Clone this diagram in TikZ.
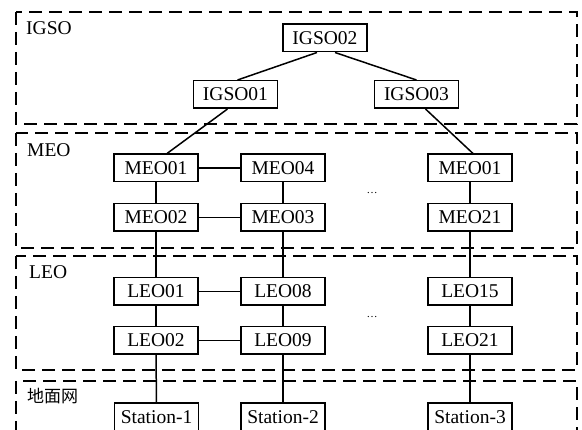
\documentclass[tikz,border=0pt]{standalone}
\usepackage{fontspec}
\setmainfont{Liberation Serif}
\newfontfamily\cjk{Noto Sans CJK SC}
\begin{document}
\begin{tikzpicture}[x=1pt,y=-1pt,
  sat/.style={draw,line width=1.5pt,minimum width=84pt,minimum height=27.5pt,inner sep=1pt,font=\fontsize{19.5}{22}\selectfont},
  layer/.style={draw,line width=2pt,dash pattern=on 13pt off 7pt},
  lbl/.style={anchor=west,inner sep=0pt,font=\fontsize{19.5}{22}\selectfont},
  link/.style={line width=1.5pt}]
\useasboundingbox (0,0) rectangle (582,430);
\begin{scope}
\clip (0,0) rectangle (582,430);
\draw[layer] (16,12) rectangle (577,124);
\draw[layer] (16,133) rectangle (577,248);
\draw[layer] (16,256) rectangle (577,370);
\draw[layer] (16,381) rectangle (577,470);
\end{scope}
\node[lbl] (lIGSO) at (26,28) {IGSO};
\node[lbl] (lMEO) at (27,150) {MEO};
\node[lbl] (lLEO) at (29,272) {LEO};
\node[lbl,font=\cjk\fontsize{17}{20}\selectfont] (lGround) at (27,396) {地面网};

\node[sat] (IGSO02) at (325,38) {IGSO02};
\node[sat] (IGSO01) at (235.5,94.5) {IGSO01};
\node[sat] (IGSO03) at (416.5,94.5) {IGSO03};

\node[sat] (MEO01) at (156,168) {MEO01};
\node[sat] (MEO04) at (283,168) {MEO04};
\node[sat] (MEO01r) at (470,168) {MEO01};
\node[sat] (MEO02) at (156,217.5) {MEO02};
\node[sat] (MEO03) at (283,217.5) {MEO03};
\node[sat] (MEO21) at (470,217.5) {MEO21};

\node[sat] (LEO01) at (156,291.5) {LEO01};
\node[sat] (LEO08) at (283,291.5) {LEO08};
\node[sat] (LEO15) at (470,291.5) {LEO15};
\node[sat] (LEO02) at (156,340.5) {LEO02};
\node[sat] (LEO09) at (283,340.5) {LEO09};
\node[sat] (LEO21) at (470,340.5) {LEO21};

\node[sat] (St1) at (156.5,417) {Station-1};
\node[sat] (St2) at (283,417) {Station-2};
\node[sat] (St3) at (470,417) {Station-3};

\node[font=\fontsize{11}{12}\selectfont,inner sep=0pt] (dots1) at (372,193) {\ldots};
\node[font=\fontsize{11}{12}\selectfont,inner sep=0pt] (dots2) at (372,317) {\ldots};

\draw[link] ([xshift=-8pt]IGSO02.south) -- ([xshift=2pt]IGSO01.north);
\draw[link] ([xshift=10pt]IGSO02.south) -- (IGSO03.north);
\draw[link] ([xshift=-8pt]IGSO01.south) -- ([xshift=11pt]MEO01.north);
\draw[link] ([xshift=9pt]IGSO03.south) -- ([xshift=3pt]MEO01r.north);

\draw[link] (MEO01) -- (MEO04);
\draw[link] (MEO02) -- (MEO03);
\draw[link] (LEO01) -- (LEO08);
\draw[link] (LEO02) -- (LEO09);

\draw[link] (MEO01) -- (MEO02);
\draw[link] (MEO02) -- (LEO01);
\draw[link] (LEO01) -- (LEO02);
\draw[link] (LEO02) -- (St1);
\draw[link] (MEO04) -- (MEO03);
\draw[link] (MEO03) -- (LEO08);
\draw[link] (LEO08) -- (LEO09);
\draw[link] (LEO09) -- (St2);
\draw[link] (MEO01r) -- (MEO21);
\draw[link] (MEO21) -- (LEO15);
\draw[link] (LEO15) -- (LEO21);
\draw[link] (LEO21) -- (St3);
\end{tikzpicture}
\end{document}
